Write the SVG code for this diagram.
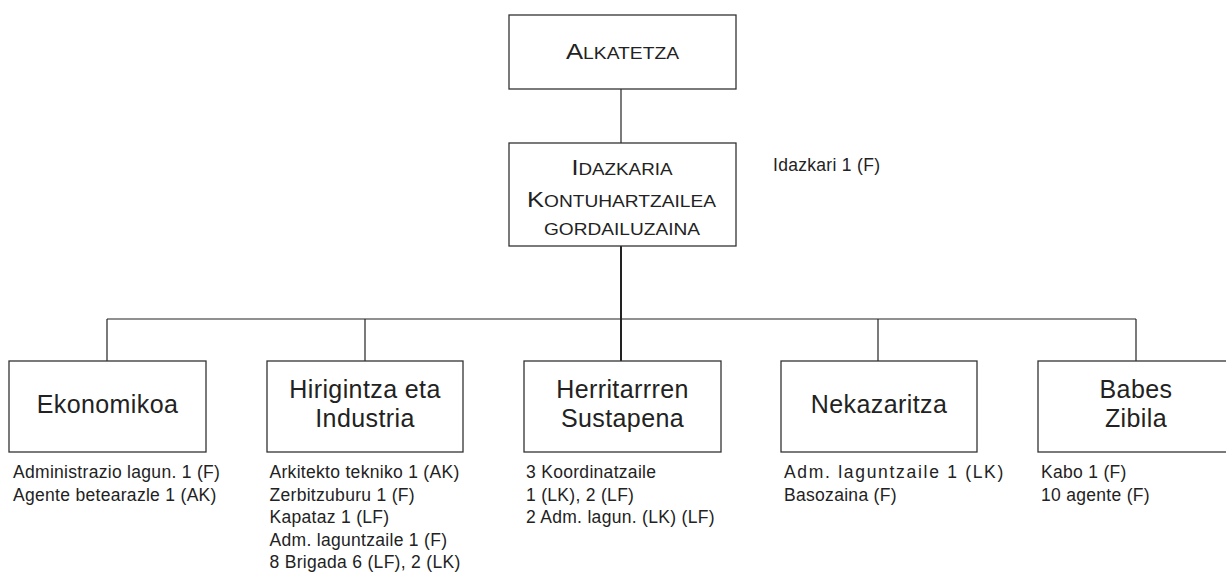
<svg xmlns="http://www.w3.org/2000/svg" width="1226" height="577" viewBox="0 0 1226 577">
<style>
.box{fill:#fff;stroke:#333;stroke-width:1.3}
.ln{stroke:#222;stroke-width:1.2;fill:none}
.t{font-family:"Liberation Sans",Arial,sans-serif;fill:#222}
.big{font-size:25px;letter-spacing:0.4px;text-anchor:middle}
.sm{font-size:17.5px;letter-spacing:0.3px}
.sc{font-size:22px;text-anchor:middle}
.scs{font-size:16.5px}
</style>
<rect width="1226" height="577" fill="#fff"/>
<g id="connectors">
<line class="ln" x1="621" y1="89" x2="621" y2="143"/>
<line class="ln" x1="621" y1="246" x2="621" y2="361" style="stroke-width:2"/>
<line class="ln" x1="107" y1="319" x2="1136" y2="319"/>
<line class="ln" x1="107" y1="319" x2="107" y2="361"/>
<line class="ln" x1="365" y1="319" x2="365" y2="361"/>
<line class="ln" x1="878" y1="319" x2="878" y2="361"/>
<line class="ln" x1="1136" y1="319" x2="1136" y2="361"/>
</g>
<g id="alkatetza">
<rect class="box" x="509" y="15" width="227" height="74"/>
<text class="t sc" x="622.5" y="59" textLength="113" lengthAdjust="spacingAndGlyphs">A<tspan class="scs">LKATETZA</tspan></text>
</g>
<g id="idazkaria">
<rect class="box" x="509" y="143" width="227" height="103"/>
<text class="t sc" x="622" y="175" textLength="101" lengthAdjust="spacingAndGlyphs">I<tspan class="scs">DAZKARIA</tspan></text>
<text class="t sc" x="621.5" y="206.5" textLength="189" lengthAdjust="spacingAndGlyphs">K<tspan class="scs">ONTUHARTZAILEA</tspan></text>
<text class="t sc" x="622" y="235" textLength="156" lengthAdjust="spacingAndGlyphs"><tspan class="scs">GORDAILUZAINA</tspan></text>
</g>
<g id="idazkari-note">
<text class="t sm" x="773" y="171">Idazkari 1 (F)</text>
</g>
<g id="ekonomikoa">
<rect class="box" x="9" y="361" width="197" height="91"/>
<text class="t big" x="107.5" y="413">Ekonomikoa</text>
<text class="t sm" x="13" y="478">Administrazio lagun. 1 (F)</text>
<text class="t sm" x="13" y="500.5">Agente betearazle 1 (AK)</text>
</g>
<g id="hirigintza">
<rect class="box" x="267" y="361" width="196" height="91"/>
<text class="t big" x="365" y="398">Hirigintza eta</text>
<text class="t big" x="365" y="427">Industria</text>
<text class="t sm" x="269.5" y="478">Arkitekto tekniko 1 (AK)</text>
<text class="t sm" x="269.5" y="500.5">Zerbitzuburu 1 (F)</text>
<text class="t sm" x="269.5" y="523">Kapataz 1 (LF)</text>
<text class="t sm" x="269.5" y="545.5">Adm. laguntzaile 1 (F)</text>
<text class="t sm" x="269.5" y="568">8 Brigada 6 (LF), 2 (LK)</text>
</g>
<g id="herritarrren">
<rect class="box" x="524" y="361" width="197" height="91"/>
<text class="t big" x="622.5" y="398">Herritarrren</text>
<text class="t big" x="622.5" y="427">Sustapena</text>
<text class="t sm" x="526" y="478">3 Koordinatzaile</text>
<text class="t sm" x="526" y="500.5">1 (LK), 2 (LF)</text>
<text class="t sm" x="526" y="523">2 Adm. lagun. (LK) (LF)</text>
</g>
<g id="nekazaritza">
<rect class="box" x="781" y="361" width="196" height="91"/>
<text class="t big" x="879" y="413">Nekazaritza</text>
<text class="t sm" x="784" y="478" style="letter-spacing:1.7px">Adm. laguntzaile 1 (LK)</text>
<text class="t sm" x="784" y="500.5">Basozaina (F)</text>
</g>
<g id="babes">
<rect class="box" x="1038" y="361" width="197" height="91"/>
<text class="t big" x="1136" y="398">Babes</text>
<text class="t big" x="1136" y="427">Zibila</text>
<text class="t sm" x="1041" y="478">Kabo 1 (F)</text>
<text class="t sm" x="1041" y="500.5">10 agente (F)</text>
</g>
</svg>
